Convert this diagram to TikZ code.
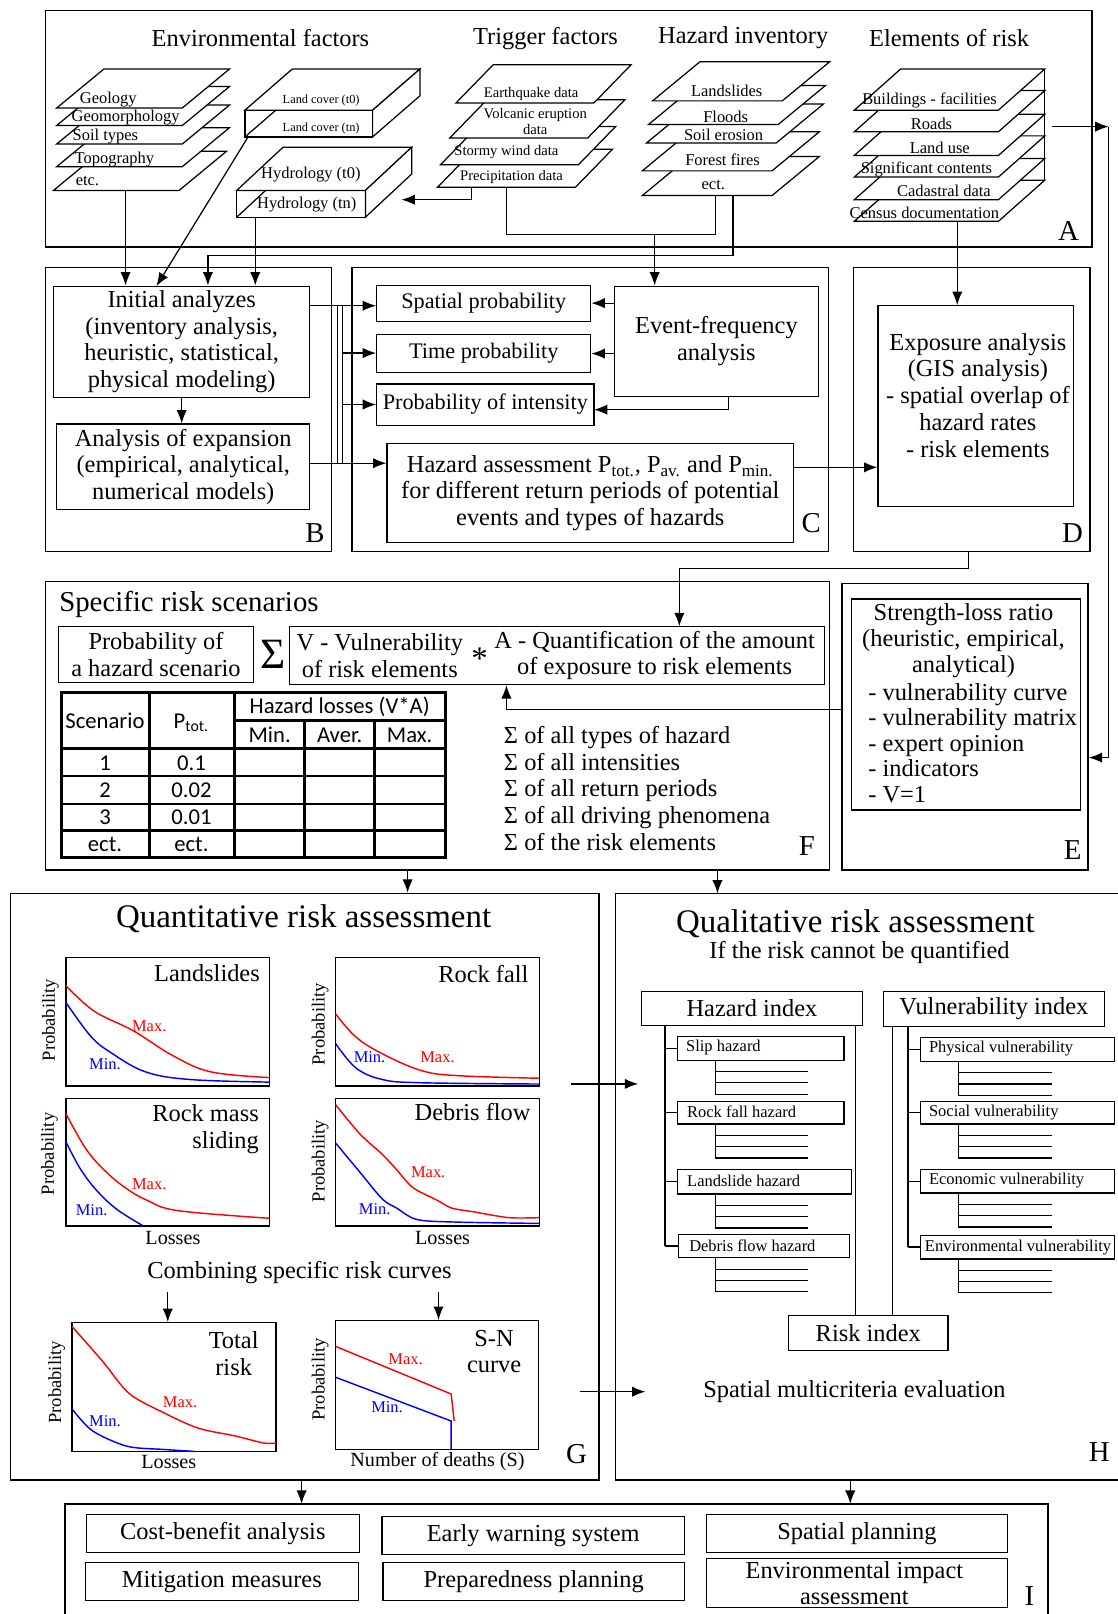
\documentclass[tikz,border=0pt]{standalone}
\usepackage{fontspec}
\setmainfont{Liberation Serif}
\newfontfamily\tabfont{Carlito}
\usetikzlibrary{arrows.meta,fit}
\newcommand\fstd{\fontsize{11.85}{12.85}\selectfont}
\newcommand\fsmall{\fontsize{10.8}{12}\selectfont}
\newcommand\fbig{\fontsize{16}{18}\selectfont}
\newcommand\fmid{\fontsize{14}{16}\selectfont}
\newcommand\fsm{\fontsize{8}{9}\selectfont}
\newcommand\fxs{\fontsize{7.1}{7.5}\selectfont}
\newcommand\fxxs{\fontsize{6}{7}\selectfont}
\newcommand\flet{\fontsize{14}{16}\selectfont}
\newcommand\fax{\fontsize{9}{10}\selectfont}
\newcommand\flos{\fontsize{9.8}{11}\selectfont}
\newcommand\ftab{\tabfont\fontsize{11}{12}\selectfont}
\newcommand\lyr[5]{\draw[fill=white] (#1,#2) -- ++(#3,0) -- ++(#5,-#4) -- ++(-#3,0) -- cycle;}
\newcommand\subl[3]{\draw (#1,#2) -- (#1,#2+33); \foreach \dd in {11,22,33} {\draw (#1,#2+\dd) -- (#1+#3,#2+\dd);}}
\newcommand\bx[7][]{\node[box,#1,minimum width={(#5-#3)*0.5pt},minimum height={(#6-#4)*0.5pt}] (#2) at ({(#3+#5)/2},{(#4+#6)/2}) {#7};}
\tikzset{
  frm/.style={draw, inner sep=0pt, line width=0.7pt},
  box/.style={draw, inner sep=0pt, align=center, font=\fstd, line width=0.6pt},
  ibox/.style={draw, inner sep=0pt, line width=0.6pt},
  tx/.style={inner sep=0pt, align=center, font=\fstd},
  sm/.style={inner sep=0pt, font=\fsm},
  xs/.style={inner sep=0pt, font=\fxs},
  xxs/.style={inner sep=0pt, font=\fxxs},
  arr/.style={-{Latex[length=6.5pt,width=5pt]}},
  lab/.style={inner sep=0pt, font=\flet},
  ax/.style={inner sep=0pt, font=\fax, rotate=90},
  mx/.style={inner sep=0pt, font=\fsm, text=red},
  mn/.style={inner sep=0pt, font=\fsm, text=blue},
  los/.style={inner sep=0pt, font=\flos},
  tb/.style={inner sep=0pt, font=\ftab},
  cmax/.style={red, line width=0.7pt},
  cmin/.style={blue, line width=0.7pt},
  tline/.style={line width=1.3pt},
}
\begin{document}
\begin{tikzpicture}[x=0.5pt,y=-0.5pt,line width=0.6pt]
\useasboundingbox (0,0) rectangle (1086,1568);
\fill[white] (0,0) rectangle (1086,1568);

%% ================= A =================
\node[frm, fit={(44,10)(1061,240)}] (A) {};
\node[lab] (Al) at (1038,224) {A};
\node[tx] (tEnv) at (253,37) {Environmental factors};
\node[tx] (tTrig) at (530,37) {Trigger factors};
\node[tx] (tHaz) at (722,37) {Hazard inventory};
\node[tx] (tEl) at (922,37) {Elements of risk};

% environmental stack
\lyr{52}{185}{122}{38}{46}
\node[sm,anchor=west] (e5) at (73,176) {etc.};
\lyr{55}{162}{122}{38}{46}
\node[sm,anchor=west] (e4) at (72,155) {Topography};
\lyr{55}{140}{122}{38}{46}
\node[sm,anchor=west] (e3) at (70,133) {Soil types};
\lyr{55}{122}{122}{38}{46}
\node[sm,anchor=west] (e2) at (69,114) {Geomorphology};
\lyr{55}{105}{122}{38}{46}
\node[sm,anchor=west] (e1) at (77,97) {Geology};
\coordinate (envb) at (122,185);

% land cover box
\draw[fill=white] (238,107) rectangle (362,133);
\draw[fill=white] (238,107) -- (362,107) -- (408,67) -- (284,67) -- cycle;
\draw[fill=white] (362,107) -- (408,67) -- (408,93) -- (362,133) -- cycle;
\draw (238,133) -- (268,107);
\node[xxs] (lc0) at (312,98) {Land cover (t0)};
\node[xxs] (lcn) at (312,125) {Land cover (tn)};
\coordinate (lcb) at (241,133);

% hydrology box
\draw[fill=white] (230,185) rectangle (355,211);
\draw[fill=white] (230,185) -- (355,185) -- (400,143) -- (275,143) -- cycle;
\draw[fill=white] (355,185) -- (400,143) -- (400,169) -- (355,211) -- cycle;
\draw (230,211) -- (258,185);
\node[sm] (hy0) at (302,170) {Hydrology (t0)};
\node[sm] (hyn) at (298,199) {Hydrology (tn)};
\coordinate (hyb) at (248,211);
\coordinate (hyr) at (390,194);

% trigger stack
\lyr{425}{182}{134}{37}{36}
\node[xs] (t4) at (497,172) {Precipitation data};
\lyr{428}{160}{134}{37}{36}
\node[xs] (t3) at (492,148) {Stormy wind data};
\lyr{437}{134}{134}{37}{36}
\node[xs,align=center] (t2) at (520,118) {Volcanic eruption\\data};
\lyr{443}{100}{134}{37}{36}
\node[xs] (t1) at (516,91) {Earthquake data};
\coordinate (prb) at (458,182);
\coordinate (trb) at (492,182);

% hazard inventory stack
\lyr{624}{190}{126}{38}{46}
\node[sm] (h5) at (693,180) {ect.};
\lyr{624}{166}{126}{38}{46}
\node[sm] (h4) at (702,155) {Forest fires};
\lyr{628}{139}{126}{38}{46}
\node[sm] (h3) at (703,131) {Soil erosion};
\lyr{630}{121}{126}{38}{46}
\node[sm] (h2) at (705,114) {Floods};
\lyr{634}{98}{126}{38}{46}
\node[sm] (h1) at (706,88) {Landslides};
\coordinate (hzb1) at (695,190);
\coordinate (hzb2) at (712,190);
\coordinate (hzj) at (695,228);
\coordinate (tj) at (636,228);
\coordinate (hzk) at (202,248);

% elements of risk stack
\lyr{830}{215}{140}{40}{45}
\node[sm] (r6) at (898,207) {Census documentation};
\lyr{830}{194}{140}{40}{45}
\node[sm] (r5) at (917,185) {Cadastral data};
\lyr{830}{172}{140}{40}{45}
\node[sm] (r4) at (900,165) {Significant contents};
\lyr{830}{151}{140}{40}{45}
\node[sm] (r3) at (913,144) {Land use};
\lyr{830}{128}{140}{40}{45}
\node[sm] (r2) at (905,120) {Roads};
\lyr{830}{107}{140}{40}{45}
\node[sm] (r1) at (903,98) {Buildings - facilities};
\draw (1015,67) -- (1015,175);
\coordinate (elr) at (1022,123);
\coordinate (elc) at (1077,123);
\coordinate (ee) at (1077,736);
\coordinate (elb) at (930,216);

%% ================= B =================
\node[frm, fit={(44,260)(322,536)}] (B) {};
\node[lab] (Bl) at (306,518) {B};
\bx{init}{52}{278}{301}{386}{Initial analyzes\\(inventory analysis,\\heuristic, statistical,\\physical modeling)}
\bx{expa}{55}{412}{301}{495}{Analysis of expansion\\(empirical, analytical,\\numerical models)}
\draw[arr] (init.south) -- (init.south |- expa.north);

%% ================= C =================
\node[frm, fit={(342,260)(805,536)}] (C) {};
\node[lab] (Cl) at (788,508) {C};
\bx[font=\fsmall]{sp}{366}{277}{574}{312}{Spatial probability}
\bx[font=\fsmall]{tp}{366}{325}{574}{362}{Time probability}
\bx[font=\fsmall]{pi}{366}{373}{577}{413}{Probability of intensity}
\bx{ef}{597}{278}{795}{385}{Event-frequency\\analysis}
\bx{ha}{376}{431}{771}{527}{Hazard assessment P\textsubscript{tot.}, P\textsubscript{av.} and P\textsubscript{min.}\\for different return periods of potential\\events and types of hazards}
\draw[arr] (ef.west |- sp) -- (sp.east);
\draw[arr] (ef.west |- tp) -- (tp.east);
\coordinate (efb) at (708,385);
\coordinate (pie) at (577,398);
\draw[arr] (efb) |- (pie);

% B -> C
\coordinate (r1c) at (301,297);
\coordinate (r2c) at (301,450);
\coordinate (v1t) at (328,297);
\coordinate (v1b) at (328,450);
\coordinate (v2t) at (333,297);
\coordinate (v2b) at (333,450);
\coordinate (j2) at (333,343);
\coordinate (j3) at (333,393);
\draw[arr] (r1c) -- (r1c -| sp.west);
\draw (v1t) -- (v1b);
\draw (v2t) -- (v2b);
\draw[arr] (j2) -- (j2 -| tp.west);
\draw[arr] (j3) -- (j3 -| pi.west);
\draw[arr] (r2c) -- (r2c -| ha.west);

%% ================= D =================
\node[frm, fit={(829,260)(1059,536)}] (D) {};
\node[lab] (Dl) at (1042,518) {D};
\node[ibox, fit={(853,297)(1043,492)}] (Dex) {};
\node[tx, font=\fontsize{11.85}{13}\selectfont] (dtxt) at (950,384) {Exposure analysis\\(GIS analysis)\\- spatial overlap of\\hazard rates\\- risk elements};
\coordinate (r3c) at (771,454);
\draw[arr] (r3c) -- (r3c -| Dex.west);

%% A connectors
\draw[arr] (envb) -- (envb |- init.north);
\coordinate (lce) at (152,278);
\draw[arr] (lcb) -- (lce);
\draw[arr] (hyb) -- (hyb |- init.north);
\draw[arr] (prb) |- (hyr);
\draw (trb) |- (hzj) -- (hzb1);
\draw[arr] (tj) -- (tj |- ef.north);
\draw[arr] (hzb2) |- (hzk) -- (hzk |- init.north);
\draw[arr] (elr) -- (elc);
\draw[arr] (elb) -- (elb |- Dex.north);

%% ================= E =================
\node[frm, fit={(818,567)(1057,845)}] (E) {};
\node[lab] (El) at (1042,826) {E};
\node[ibox, fit={(827,582)(1050,787)}] (Ein) {};
\node[tx, font=\fontsize{11.85}{12.6}\selectfont] (et1) at (936,622) {Strength-loss ratio\\(heuristic, empirical,\\analytical)};
\node[tx, align=left, anchor=west, font=\fontsize{11.85}{12.4}\selectfont] (et2) at (843,722) {- vulnerability curve\\- vulnerability matrix\\- expert opinion\\- indicators\\- V=1};
\draw[arr] (elc) -- (ee) -- (ee -| E.east);

%% ================= F =================
\node[frm, fit={(44,565)(806,845)}] (F) {};
\node[lab] (Fl) at (784,822) {F};
\node[inner sep=0pt, font=\fmid, anchor=west] (fti) at (57,587) {Specific risk scenarios};
\bx{pb}{57}{609}{246}{663}{Probability of\\a hazard scenario}
\node[inner sep=0pt, font=\fontsize{21}{21}\selectfont] (sig) at (265,636) {Σ};
\node[ibox, fit={(281,609)(801,665)}] (va) {};
\node[tx] (vtx) at (369,637) {V - Vulnerability\\of risk elements};
\node[inner sep=0pt, font=\fontsize{16}{16}\selectfont] (ast) at (466,640) {*};
\node[tx] (atx) at (636,637) {A - Quantification of the amount\\of exposure to risk elements};
\coordinate (dbt) at (941,536);
\coordinate (dj) at (660,552);
\draw[arr] (dbt) |- (dj) -- (dj |- va.north);
\coordinate (ej) at (492,689);
\draw[arr] (E.west |- ej) -- (ej) -- (ej |- va.south);

% table
\draw[tline] (60,673) rectangle (433,833);
\foreach \yy in {727,754,781,807} {\draw[tline] (60,\yy) -- (433,\yy);}
\draw[tline] (228,700) -- (433,700);
\foreach \xx in {145,228} {\draw[tline] (\xx,673) -- (\xx,833);}
\foreach \xx in {296,364} {\draw[tline] (\xx,700) -- (\xx,833);}
\node[tb] (tsc) at (102,700) {Scenario};
\node[tb] (tpt) at (186,702) {P\textsubscript{tot.}};
\node[tb] (thl) at (330,687) {Hazard losses (V*A)};
\node[tb] (tmi) at (262,714) {Min.};
\node[tb] (tav) at (330,714) {Aver.};
\node[tb] (tma) at (398,714) {Max.};
\node[tb] (ta1) at (102,741) {1};
\node[tb] (tb1) at (186,741) {0.1};
\node[tb] (ta2) at (102,768) {2};
\node[tb] (tb2) at (186,768) {0.02};
\node[tb] (ta3) at (102,794) {3};
\node[tb] (tb3) at (186,794) {0.01};
\node[tb] (ta4) at (102,820) {ect.};
\node[tb] (tb4) at (186,820) {ect.};
\node[tx, align=left, anchor=west, font=\fontsize{11.85}{13}\selectfont] (sums) at (489,766) {Σ of all types of hazard\\Σ of all intensities\\Σ of all return periods\\Σ of all driving phenomena\\Σ of the risk elements};

%% ================= G =================
\node[frm, fit={(10,868)(582,1438)}] (G) {};
\node[lab] (Gl) at (560,1413) {G};
\node[inner sep=0pt, font=\fbig] (gti) at (295,893) {Quantitative risk assessment};
\coordinate (fg) at (396,845);
\draw[arr] (fg) -- (fg |- G.north);

% chart 1 Landslides
\node[frm, fit={(64,930)(262,1055)}] (c1) {};
\begin{scope}[shift={(64,1055)},xscale=198,yscale=-125]
\draw[cmax] plot[smooth,tension=0.6] coordinates {(0,.78) (.14,.58) (.33,.43) (.52,.24) (.71,.11) (1,.065)};
\draw[cmin] plot[smooth,tension=0.6] coordinates {(0,.65) (.12,.39) (.22,.26) (.39,.11) (.61,.05) (1,.03)};
\end{scope}
\node[tx, anchor=east] (c1t) at (253,945) {Landslides};
\node[ax] (c1y) at (49,991) {Probability};
\node[mx] (c1a) at (145,997) {Max.};
\node[mn] (c1b) at (102,1034) {Min.};

% chart 2 Rock fall
\node[frm, fit={(326,930)(524,1055)}] (c2) {};
\begin{scope}[shift={(326,1055)},xscale=198,yscale=-125]
\draw[cmax] plot[smooth,tension=0.6] coordinates {(0,.56) (.1,.38) (.23,.25) (.42,.12) (.6,.08) (1,.06)};
\draw[cmin] plot[smooth,tension=0.6] coordinates {(0,.33) (.1,.14) (.23,.05) (.42,.025) (1,.015)};
\end{scope}
\node[tx, anchor=east] (c2t) at (514,946) {Rock fall};
\node[ax] (c2y) at (311,995) {Probability};
\node[mn] (c2b) at (359,1027) {Min.};
\node[mx] (c2a) at (425,1027) {Max.};

% chart 3 Rock mass sliding
\node[frm, fit={(64,1067)(262,1191)}] (c3) {};
\begin{scope}[shift={(64,1191)},xscale=198,yscale=-124]
\draw[cmax] plot[smooth,tension=0.6] coordinates {(0,.88) (.1,.6) (.2,.42) (.3,.29) (.4,.2) (.55,.12) (1,.06)};
\draw[cmin] plot[smooth,tension=0.6] coordinates {(0,.66) (.07,.45) (.15,.28) (.25,.13) (.38,0)};
\end{scope}
\node[tx, anchor=east, align=right, font=\fontsize{11.85}{13}\selectfont] (c3t) at (252,1097) {Rock mass\\sliding};
\node[ax] (c3y) at (48,1121) {Probability};
\node[mx] (c3a) at (145,1150) {Max.};
\node[mn] (c3b) at (89,1176) {Min.};
\node[los] (c3x) at (168,1203) {Losses};

% chart 4 Debris flow
\node[frm, fit={(326,1067)(524,1191)}] (c4) {};
\begin{scope}[shift={(326,1191)},xscale=198,yscale=-124]
\draw[cmax] plot[smooth,tension=0.5] coordinates {(0,.95) (.12,.72) (.23,.56) (.3,.44) (.38,.3) (.5,.2) (.57,.14) (.68,.11) (.85,.065) (1,.065)};
\draw[cmin] plot[smooth,tension=0.5] coordinates {(0,.65) (.12,.42) (.23,.21) (.3,.14) (.4,.05) (.6,.03) (1,.02)};
\end{scope}
\node[tx, anchor=east] (c4t) at (516,1080) {Debris flow};
\node[ax] (c4y) at (311,1128) {Probability};
\node[mx] (c4a) at (416,1139) {Max.};
\node[mn] (c4b) at (364,1175) {Min.};
\node[los] (c4x) at (430,1203) {Losses};

\node[tx] (comb) at (291,1236) {Combining specific risk curves};

% total risk
\node[frm, fit={(70,1285)(268,1410)}] (c5) {};
\begin{scope}[shift={(70,1410)},xscale=198,yscale=-125]
\draw[cmax] plot[smooth,tension=0.5] coordinates {(0,.97) (.15,.7) (.28,.45) (.45,.3) (.62,.18) (.8,.12) (.94,.065) (1,.065)};
\draw[cmin] plot[smooth,tension=0.5] coordinates {(0,.33) (.1,.16) (.27,.04) (.45,.015) (.6,0)};
\end{scope}
\node[tx, font=\fontsize{11.85}{13}\selectfont] (c5t) at (227,1315) {Total\\risk};
\node[ax] (c5y) at (55,1343) {Probability};
\node[mx] (c5a) at (175,1362) {Max.};
\node[mn] (c5b) at (102,1381) {Min.};
\node[los] (c5x) at (164,1420) {Losses};

% S-N curve
\node[frm, fit={(326,1283)(523,1408)}] (c6) {};
\begin{scope}[shift={(326,1408)},xscale=197,yscale=-125]
\draw[cmax] (0,.80) -- (.57,.43) -- (.585,.22);
\draw[cmin] (0,.56) -- (.57,.22) -- (.57,0);
\end{scope}
\node[tx, font=\fontsize{11.85}{13}\selectfont] (c6t) at (480,1313) {S-N\\curve};
\node[ax] (c6y) at (311,1340) {Probability};
\node[mx] (c6a) at (394,1320) {Max.};
\node[mn] (c6b) at (376,1367) {Min.};
\node[los] (c6x) at (425,1420) {Number of deaths (S)};

\coordinate (cm1) at (163,1255);
\coordinate (cm2) at (426,1255);
\draw[arr] (cm1) -- (cm1 |- c5.north);
\draw[arr] (cm2) -- (cm2 |- c6.north);

%% ================= H =================
\draw[line width=0.7pt] (1086,868) -- (598,868) -- (598,1438) -- (1086,1438);
\coordinate (Htl) at (598,868);
\coordinate (Hbl) at (598,1438);
\node[lab] (Hl) at (1068,1411) {H};
\node[inner sep=0pt, font=\fbig] (hti) at (831,897) {Qualitative risk assessment};
\node[tx] (hsub) at (835,925) {If the risk cannot be quantified};
\coordinate (fh) at (697,845);
\draw[arr] (fh) -- (fh |- Htl);

\bx{hi}{623}{963}{838}{996}{Hazard index}
\bx{vi}{858}{963}{1073}{997}{Vulnerability index}

\node[ibox, fill=white, fit={(658,1007)(820,1030)}] (hs1) {};
\node[sm, anchor=west] (hs1t) at (666,1018) {Slip hazard};
\node[ibox, fill=white, fit={(658,1070)(820,1092)}] (hs2) {};
\node[sm, anchor=west] (hs2t) at (667,1080) {Rock fall hazard};
\node[ibox, fill=white, fit={(658,1136)(827,1160)}] (hs3) {};
\node[sm, anchor=west] (hs3t) at (667,1147) {Landslide hazard};
\node[ibox, fill=white, fit={(659,1199)(825,1222)}] (hs4) {};
\node[sm, anchor=west] (hs4t) at (669,1210) {Debris flow hazard};

\coordinate (hx) at (646,0);
\draw (hi.south -| hx) -- (hs4.west -| hx);
\foreach \nn in {hs1,hs2,hs3,hs4} {\draw (\nn.west) -- (\nn.west -| hx);}
\subl{695}{1030}{90}
\subl{695}{1092}{90}
\subl{695}{1160}{90}
\subl{695}{1222}{90}

\node[ibox, fill=white, fit={(894,1008)(1083,1031)}] (vs1) {};
\node[sm, anchor=west] (vs1t) at (902,1019) {Physical vulnerability};
\node[ibox, fill=white, fit={(894,1070)(1083,1092)}] (vs2) {};
\node[sm, anchor=west] (vs2t) at (902,1081) {Social vulnerability};
\node[ibox, fill=white, fit={(894,1136)(1083,1159)}] (vs3) {};
\node[sm, anchor=west] (vs3t) at (902,1147) {Economic vulnerability};
\node[ibox, fill=white, fit={(894,1200)(1083,1223)}] (vs4) {};
\node[sm, anchor=west] (vs4t) at (898,1212) {Environmental vulnerability};

\coordinate (vx) at (882,0);
\draw (vi.south -| vx) -- (vs4.west -| vx);
\foreach \nn in {vs1,vs2,vs3,vs4} {\draw (\nn.west) -- (\nn.west -| vx);}
\subl{931}{1031}{91}
\subl{931}{1092}{91}
\subl{931}{1159}{91}
\subl{931}{1223}{91}

\bx{ri}{766}{1278}{921}{1312}{Risk index}
\coordinate (hr) at (831,0);
\coordinate (vl) at (867,0);
\draw (hi.south -| hr) -- (ri.north -| hr);
\draw (vi.south -| vl) -- (ri.north -| vl);
\node[tx] (smc) at (830,1352) {Spatial multicriteria evaluation};

% G -> H
\coordinate (gh1) at (555,1053);
\coordinate (gh1e) at (620,1053);
\coordinate (gh2) at (563,1352);
\coordinate (gh2e) at (627,1352);
\draw[arr] (gh1) -- (gh1e);
\draw[arr] (gh2) -- (gh2e);

%% ================= I =================
\draw[line width=0.7pt] (63,1568) -- (63,1461) -- (1018,1461) -- (1018,1568);
\coordinate (Ia) at (293,1461);
\coordinate (Ib) at (826,1461);
\node[lab] (Il) at (1000,1551) {I};
\draw[arr] (G.south -| Ia) -- (Ia);
\draw[arr] (Hbl -| Ib) -- (Ib);
\bx{ib1}{84}{1471}{349}{1508}{Cost-benefit analysis}
\bx{ib2}{83}{1518}{348}{1555}{Mitigation measures}
\bx{ib3}{371}{1473}{665}{1510}{Early warning system}
\bx{ib4}{372}{1518}{665}{1555}{Preparedness planning}
\bx{ib5}{686}{1471}{979}{1508}{Spatial planning}
\node[ibox, fit={(686,1514)(979,1562)}] (ib6) {};
\node[tx, font=\fontsize{11.85}{12.6}\selectfont] (ib6t) at (830,1538) {Environmental impact\\assessment};
\end{tikzpicture}
\end{document}
